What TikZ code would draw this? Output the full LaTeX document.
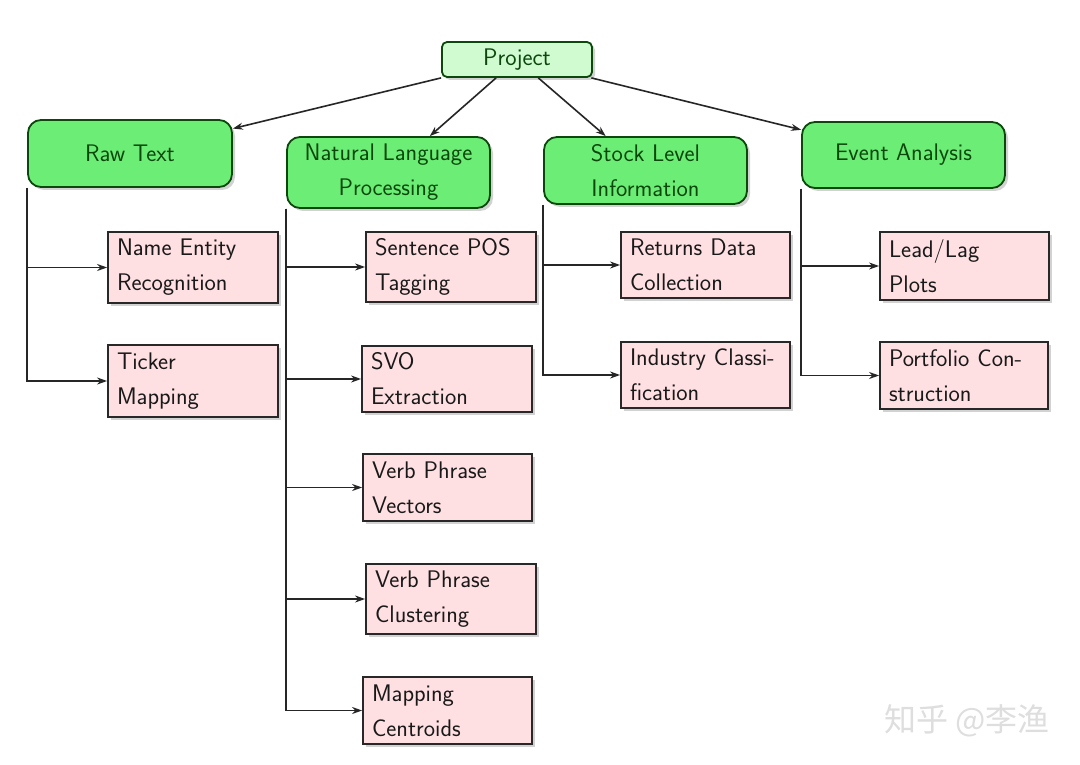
\documentclass[tikz,border=0pt]{standalone}
\usepackage{fontspec}
\newfontfamily\cjk{Noto Sans CJK SC}
\usetikzlibrary{shadows,arrows.meta}
\definecolor{pinkfill}{RGB}{255,224,226}
\definecolor{greenfill}{RGB}{108,238,118}
\definecolor{projfill}{RGB}{208,250,208}
\definecolor{dgreen}{RGB}{12,72,12}
\definecolor{boxline}{RGB}{40,40,40}
\tikzset{
  base/.style={font=\sffamily\fontsize{24}{35}\selectfont, line width=1.8pt,
    drop shadow={shadow xshift=3pt,shadow yshift=-3pt,opacity=0.35}},
  leaf/.style={base, rectangle, draw=boxline, fill=pinkfill, text=black!90,
    minimum width=170pt, minimum height=68pt, text width=152pt,
    inner xsep=9pt, inner ysep=0pt, align=left},
  cat/.style={base, rectangle, rounded corners=13pt, draw=dgreen, fill=greenfill,
    text=dgreen, minimum width=204pt, minimum height=68pt, align=center, inner sep=0pt},
  proj/.style={base, rectangle, rounded corners=5pt, draw=dgreen, fill=projfill,
    text=dgreen, minimum width=150pt, minimum height=35pt, inner sep=0pt},
  link/.style={line width=1.6pt, draw=black!85, -{Stealth[length=10pt,width=7pt]}},
  trunk/.style={line width=1.6pt, draw=black!85, -{Stealth[length=10pt,width=7pt]}},
}
\begin{document}
\begin{tikzpicture}[x=1pt,y=-1pt]
\useasboundingbox (0,0) rectangle (1080,765);
\fill[white] (0,0) rectangle (1080,765);

\node[proj] (project) at (517,59.5) {Project};

\node[cat, minimum height=67pt] (raw) at (130,153.5) {Raw Text};
\node[cat, minimum width=203pt, minimum height=71pt] (nlp) at (388.5,172.5) {Natural Language\\Processing};
\node[cat, minimum width=203pt, minimum height=67pt] (stock) at (645.5,170.5) {Stock Level\\Information};
\node[cat, minimum width=203pt, minimum height=66pt] (event) at (903.5,155) {Event Analysis};

\draw[link] (project) -- (raw);
\draw[link] (project) -- (nlp);
\draw[link] (project) -- (stock);
\draw[link] (project) -- (event);

% Raw Text children
\node[leaf, minimum height=71pt] (ner) at (193,267.5) {Name Entity\\Recognition};
\node[leaf, minimum height=72pt] (ticker) at (193,381) {Ticker\\Mapping};

% NLP children
\node[leaf, minimum height=70pt] (pos) at (451,267) {Sentence POS\\Tagging};
\node[leaf, minimum height=66pt] (svo) at (447,379) {SVO\\Extraction};
\node[leaf, minimum width=169pt, text width=151pt, minimum height=67pt] (vpv) at (447.5,487.5) {Verb Phrase\\Vectors};
\node[leaf, minimum height=70pt] (vpc) at (451,599) {Verb Phrase\\Clustering};
\node[leaf, minimum width=169pt, text width=151pt, minimum height=67pt] (mc) at (447.5,710.5) {Mapping\\Centroids};

% Stock children
\node[leaf, minimum width=169pt, text width=151pt, minimum height=66pt] (ret) at (705.5,265) {Returns Data\\Collection};
\node[leaf, minimum width=169pt, text width=151pt, minimum height=66pt] (ind) at (705.5,375) {Industry Classi-\\fication};

% Event children
\node[leaf, minimum width=169pt, text width=151pt, minimum height=68pt] (lead) at (964.5,266) {Lead/Lag\\Plots};
\node[leaf, minimum width=168pt, text width=150pt, minimum height=67pt] (port) at (964,375.5) {Portfolio Con-\\struction};

\draw[trunk] (raw.south west) |- (ner);
\draw[trunk] (raw.south west) |- (ticker);
\draw[trunk] (nlp.south west) |- (pos);
\draw[trunk] (nlp.south west) |- (svo);
\draw[trunk] (nlp.south west) |- (vpv);
\draw[trunk] (nlp.south west) |- (vpc);
\draw[trunk] (nlp.south west) |- (mc);
\draw[trunk] (stock.south west) |- (ret);
\draw[trunk] (stock.south west) |- (ind);
\draw[trunk] (event.south west) |- (lead);
\draw[trunk] (event.south west) |- (port);

\node[font=\cjk\fontsize{32}{34}\selectfont, text=black!13, anchor=west, inner sep=0pt] (wm) at (884,721) {知乎 @李渔};
\end{tikzpicture}
\end{document}
